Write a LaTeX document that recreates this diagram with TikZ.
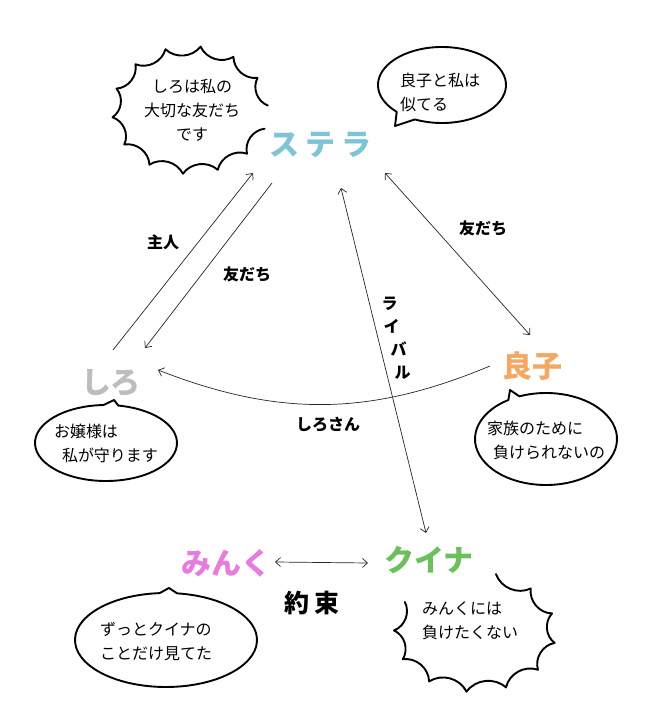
\documentclass[tikz,border=0pt]{standalone}
\usepackage{fontspec}
\setmainfont{Noto Sans CJK JP}
\usepackage{tikz}
\usetikzlibrary{arrows.meta}

\definecolor{stellablue}{HTML}{7EC4D6}
\definecolor{yoshikoorange}{HTML}{F5A764}
\definecolor{shirogray}{HTML}{BDBDBD}
\definecolor{minkupink}{HTML}{E77CDF}
\definecolor{kuinagreen}{HTML}{6DBF5E}

\tikzset{
    charname/.style={font=\fontsize{30}{30}\selectfont\bfseries, inner sep=0pt},
    rel/.style={line width=0.7pt, draw=black!85},
    rellabel/.style={font=\fontsize{16}{23}\selectfont\bfseries, inner sep=0pt},
    bubble/.style={line width=1.9pt, line join=round, line cap=round},
    talk/.style={font=\fontsize{16}{24}\selectfont, inner sep=0pt}
}

\begin{document}
\begin{tikzpicture}[x=1pt, y=1pt, >={Straight Barb[length=5pt,width=9pt]}]

    \path[fill=white, use as bounding box] (0,0) rectangle (650,724);

    \node[charname, text=stellablue] (stella) at (320,579) {ス\kern7ptテ\kern5ptラ};
    \node[charname, text=yoshikoorange] (yoshiko) at (532,358) {良子};
    \node[charname, text=shirogray] (shiro) at (111,341) {しろ};
    \node[charname, text=minkupink] (minku) at (226,161) {みんく};
    \node[charname, text=kuinagreen] (kuina) at (429,164) {クイナ};

    \draw[rel, ->] ([shift={(2,33)}]shiro.center) -- ([shift={(-67,-28)}]stella.center);
    \draw[rel, ->] ([shift={(-48,-38)}]stella.center) -- ([shift={(34,35)}]shiro.center);
    \draw[rel, <->] ([shift={(65,-28)}]stella.center) -- ([shift={(-2,31)}]yoshiko.center);
    \draw[rel, <->] ([shift={(21,-43)}]stella.center) -- ([shift={(-3,27)}]kuina.center);
    \draw[rel, ->] ([xshift=-42pt]yoshiko.center) to[bend left=22] ([shift={(47,13)}]shiro.center);
    \draw[rel, <->] ([shift={(49,1)}]minku.center) -- ([shift={(-61,-3)}]kuina.center);

    \node[rellabel] (master) at (163,482) {主人};
    \node[rellabel] (friendl) at (247,450) {友だち};
    \node[rellabel] (friendr) at (483,496) {友だち};
    \node[rellabel, align=left] (rival) at (396,386) {ラ\\\hspace{2pt}イ\\\hspace{9pt}バ\\\hspace{13pt}ル};
    \node[rellabel] (shirosan) at (328,299) {しろさん};
    \node[font=\fontsize{25}{25}\selectfont\bfseries, inner sep=0pt] (promise) at (312,121) {約\kern5pt束};

    \begin{scope}[shift={(190,614)}]
        \draw[bubble] (4:78 and 64) foreach \i in {1,...,13} { to[bend left=48] ({4+\i*339/13}:78 and 64) };
    \end{scope}
    \node[talk, align=center] (stellatalk) at (192,614) {しろは私の\\大切な友だち\\です};

    \draw[bubble] (442,639) ++(245:64 and 38) arc[start angle=245, end angle=585, x radius=64, y radius=38] -- (395,598) -- cycle;
    \node[talk, align=left] (stellatalk2) at (440,632) {良子と私は\\似てる};

    \draw[bubble] (106,281) ++(92:71 and 38) arc[start angle=92, end angle=440, x radius=71, y radius=38] -- (114,324) -- cycle;
    \node[talk, align=left] (shirotalk) at (106,281) {お嬢様は\\\hspace{8pt}私が守ります};

    \draw[bubble] (546,285) ++(122:71 and 46) arc[start angle=122, end angle=472, x radius=71, y radius=46] -- (510,334) -- cycle;
    \node[talk, align=left] (yoshikotalk) at (546,284) {家族のために\\\hspace{6pt}負けられないの};

    \draw[bubble] (166,84) ++(94:91 and 47) arc[start angle=94, end angle=443, x radius=91, y radius=47] -- (169,136) -- cycle;
    \node[talk, align=left] (minkutalk) at (156,82) {ずっとクイナの\\ことだけ見てた};

    \begin{scope}[shift={(475,92)}]
        \draw[bubble] (150:81 and 60) foreach \i in {1,...,10} { to[bend left=48] ({150+\i*28.5}:81 and 60) };
    \end{scope}
    \node[talk, align=left] (kuinatalk) at (470,103) {みんくには\\負けたくない};

\end{tikzpicture}
\end{document}
